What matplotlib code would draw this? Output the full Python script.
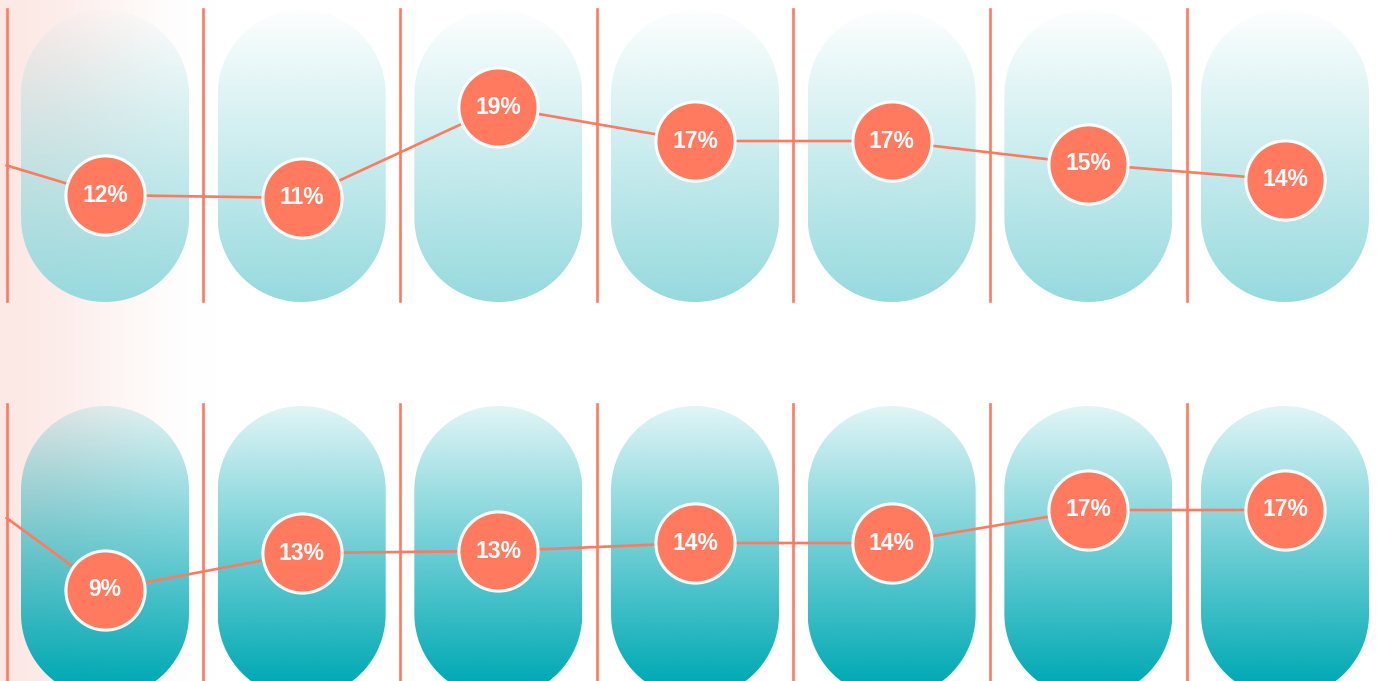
import numpy as np
import matplotlib.pyplot as plt
from matplotlib.patches import Polygon

# data: two rows of seven periods, labels as printed
periods = list(range(7))
top_prev = 14.6            # where the line comes in from the left edge
top_vals = [11.98, 11.72, 19.77, 16.76, 16.76, 14.73, 13.31]
top_labels = ["12%", "11%", "19%", "17%", "17%", "15%", "14%"]
bot_prev = 16.2
bot_vals = [9.0, 12.7, 12.9, 13.7, 13.7, 17.0, 17.0]
bot_labels = ["9%", "13%", "13%", "14%", "14%", "17%", "17%"]

CORAL = "#ff7a5e"
W, H = 1377, 681
fig = plt.figure(figsize=(W / 100, H / 100), dpi=100)

# background layer in pixel coordinates (pink wash + pills)
bg = fig.add_axes([0, 0, 1, 1])
bg.axis("off")

pitch = 196.67
x0 = 105
pill_w = 168
pill_h = 292
r = pill_w / 2

# pink wash on the left, fading smoothly to white
wash = np.ones((2, 256, 3))
s = np.linspace(0, 1, 256)
fade = (1 - (3 * s ** 2 - 2 * s ** 3))[None, :]
wash[..., 0] = 1 - (3 / 255) * fade
wash[..., 1] = 1 - (22 / 255) * fade
wash[..., 2] = 1 - (25 / 255) * fade
bg.imshow(wash, extent=(0, 215, H, 0), aspect="auto", zorder=0)


def stadium(cx, top):
    a = np.linspace(np.pi, 0, 60)
    upper = np.c_[cx + r * np.cos(a), top + r - r * np.sin(a)]
    b = np.linspace(0, -np.pi, 60)
    lower = np.c_[cx + r * np.cos(b), top + pill_h - r - r * np.sin(b)]
    return np.vstack([upper, lower])


def gradient_pill(ax, cx, top, color, a_top, a_bot, reach=1.0):
    patch = Polygon(stadium(cx, top), closed=True, facecolor="none", edgecolor="none")
    ax.add_patch(patch)
    img = np.zeros((256, 2, 4))
    img[..., :3] = np.array(color) / 255
    t = np.clip(np.linspace(0, 1, 256) / reach, 0, 1)
    img[..., 3] = (a_top + (a_bot - a_top) * t)[:, None]
    im = ax.imshow(img, extent=(cx - r, cx + r, top + pill_h, top),
                   aspect="auto", zorder=1)
    im.set_clip_path(patch)


for i in periods:
    cx = x0 + pitch * i
    gradient_pill(bg, cx, 10, (150, 218, 222), 0.02, 1.0)
    gradient_pill(bg, cx, 406, (2, 170, 181), 0.12, 1.0, reach=0.94)

bg.set_xlim(0, W)
bg.set_ylim(H, 0)

# data rows
xlim = (-x0 / pitch, (W - x0) / pitch)
ax_top = fig.add_axes([0, 1 - 340 / H, 1, 340 / H])
ax_bot = fig.add_axes([0, 0, 1, 341 / H])
ax_top.set_ylim(-0.85, 29.24)
ax_bot.set_ylim(-0.1, 34)

rows = [
    (ax_top, top_prev, top_vals, top_labels, 0.974, 0.115),
    (ax_bot, bot_prev, bot_vals, bot_labels, 0.0, 0.812),
]
for ax, prev, vals, labels, y1, y2 in rows:
    ax.set_xlim(*xlim)
    ax.patch.set_alpha(0)
    ax.axis("off")
    for i in periods:
        ax.axvline(i - 0.5, ymin=min(y1, y2), ymax=max(y1, y2), color=CORAL, lw=1.9, zorder=2)
    ax.plot([-0.5] + periods, [prev] + vals, color=CORAL, lw=1.9, zorder=3)
    ax.plot(periods, vals, "o", ms=57, mfc=CORAL, mec="white", mew=2.2, zorder=4)
    for i, v, lab in zip(periods, vals, labels):
        ax.text(i, v, lab, ha="center", va="center", color="white",
                fontsize=16.5, fontweight="bold", family="Liberation Sans", zorder=5)

fig.savefig("out.png", dpi=100)
